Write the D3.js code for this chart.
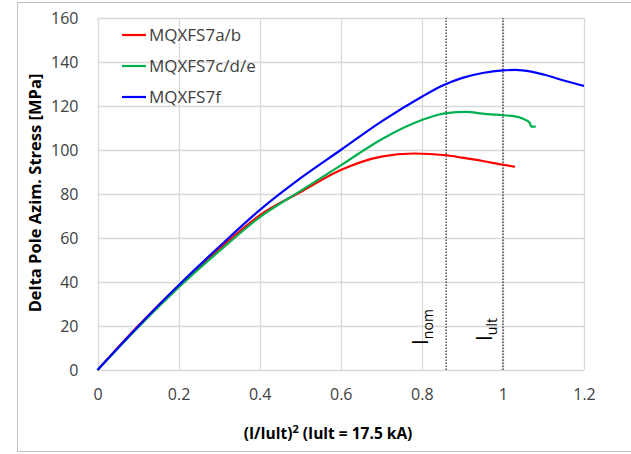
<!DOCTYPE html>
<html>
<head>
<meta charset="utf-8">
<script src="https://cdn.jsdelivr.net/npm/d3@7"></script>
<style>
  body { margin: 0; background: #fff; }
  text { font-family: "Open Sans", "Noto Sans", sans-serif; }
</style>
</head>
<body>
<div id="chart-container"></div>
<script>
// series: x = (I/Iult)^2, y = stress in MPa
var series_names = ["MQXFS7a/b", "MQXFS7c/d/e", "MQXFS7f"];
var series_colors = ["#ff0000", "#00b050", "#0000ff"];

var red_x = [0, 0.1, 0.2, 0.3, 0.4, 0.5, 0.6, 0.7, 0.78, 0.86, 0.9, 0.95, 1.0, 1.03];
var red_y = [0, 20, 38.3, 55, 70.3, 80.8, 90.9, 97.0, 98.4, 97.6, 96.5, 95, 93.3, 92.4];

var green_x = [0, 0.1, 0.2, 0.3, 0.4, 0.5, 0.6, 0.7, 0.8, 0.86, 0.91, 0.95, 1.0, 1.03, 1.05, 1.066, 1.07, 1.081];
var green_y = [0, 19.3, 37.5, 54, 69.4, 81.3, 93, 104.8, 113.6, 116.8, 117.3, 116.5, 115.8, 115.3, 114.2, 112.4, 110.6, 110.6];

var blue_x = [0, 0.1, 0.2, 0.3, 0.4, 0.5, 0.6, 0.7, 0.8, 0.85, 0.9, 0.95, 1.0, 1.03, 1.07, 1.1, 1.15, 1.2];
var blue_y = [0, 19.8, 38.5, 56, 72.7, 87.1, 100, 112.9, 124.2, 129.2, 132.8, 135.0, 136.2, 136.4, 135.6, 134.3, 131.6, 129.1];

var x_ticks = [0, 0.2, 0.4, 0.6, 0.8, 1, 1.2];
var y_ticks = [0, 20, 40, 60, 80, 100, 120, 140, 160];

var marker_x = [0.86, 1.0];
var marker_labels = [["I", "nom"], ["I", "ult"]];

var svg_width = 631;
var svg_height = 454;
var margin = {top: 18, right: 47, bottom: 84, left: 97.5};

var svg = d3.select("#chart-container")
	.append("svg")
	.attr("width", svg_width)
	.attr("height", svg_height);

// outer chart frame
svg.append("rect")
	.attr("x", 17.5)
	.attr("y", 2.5)
	.attr("width", 640)
	.attr("height", 449)
	.attr("fill", "none")
	.attr("stroke", "#bfbfbf");

var x = d3.scaleLinear()
	.domain([0, 1.2])
	.range([margin.left, svg_width - margin.right]);

var y = d3.scaleLinear()
	.domain([0, 160])
	.range([svg_height - margin.bottom, margin.top]);

// grid
svg.append("g")
	.selectAll("line")
	.data(x_ticks)
	.enter().append("line")
	.attr("x1", d => Math.round(x(d)) + 0.5)
	.attr("x2", d => Math.round(x(d)) + 0.5)
	.attr("y1", y(0))
	.attr("y2", y(160))
	.attr("stroke", "#d9d9d9")
	.attr("stroke-width", 1.3);

svg.append("g")
	.selectAll("line")
	.data(y_ticks)
	.enter().append("line")
	.attr("x1", x(0))
	.attr("x2", x(1.2))
	.attr("y1", d => Math.round(y(d)) + 0.5)
	.attr("y2", d => Math.round(y(d)) + 0.5)
	.attr("stroke", "#d9d9d9")
	.attr("stroke-width", 1.3);

// axes (labels only, Excel style)
var x_axis = d3.axisBottom(x).tickValues(x_ticks).tickSize(0).tickPadding(19)
	.tickFormat(d => d3.format("")(d));
var gx = svg.append("g")
	.attr("transform", "translate(0," + y(0) + ")")
	.call(x_axis);
gx.select(".domain").remove();
gx.selectAll("text")
	.style("font-size", "16px")
	.style("font-family", "Open Sans, sans-serif")
	.attr("fill", "#404040");

var y_axis = d3.axisLeft(y).tickValues(y_ticks).tickSize(0).tickPadding(19);
var gy = svg.append("g")
	.attr("transform", "translate(" + x(0) + ",0)")
	.call(y_axis);
gy.select(".domain").remove();
gy.selectAll("text")
	.style("font-size", "16px")
	.style("font-family", "Open Sans, sans-serif")
	.attr("fill", "#404040");

// vertical marker lines
svg.append("g")
	.selectAll("line")
	.data(marker_x)
	.enter().append("line")
	.attr("x1", d => x(d))
	.attr("x2", d => x(d))
	.attr("y1", y(0))
	.attr("y2", y(160))
	.attr("stroke", "#404040")
	.attr("stroke-width", 1.4)
	.attr("stroke-dasharray", "1.5,1.5");

var marker_g = svg.append("g")
	.selectAll("text")
	.data(marker_x)
	.enter().append("text")
	.attr("transform", function(d, i) {
		var py = i == 0 ? 345 : 341;
		var off = i == 0 ? 18 : 11;
		return "translate(" + (x(d) - off) + "," + py + ") rotate(-90)";
	})
	.attr("fill", "#000")
	.style("font-size", "21px");
marker_g.append("tspan")
	.text((d, i) => marker_labels[i][0]);
marker_g.append("tspan")
	.attr("dy", 5)
	.style("font-size", "14px")
	.text((d, i) => marker_labels[i][1]);

// series lines
var all_series = [
	{xs: red_x, ys: red_y},
	{xs: green_x, ys: green_y},
	{xs: blue_x, ys: blue_y}
];

var line = d3.line()
	.x(d => x(d[0]))
	.y(d => y(d[1]))
	.curve(d3.curveMonotoneX);

svg.append("g")
	.selectAll("path")
	.data(all_series)
	.enter().append("path")
	.attr("d", d => line(d.xs.map((v, i) => [v, d.ys[i]])))
	.attr("fill", "none")
	.attr("stroke", (d, i) => series_colors[i])
	.attr("stroke-width", 2.2);

// legend
var legend = svg.append("g")
	.selectAll("g")
	.data(series_names)
	.enter().append("g")
	.attr("transform", (d, i) => "translate(122," + (35 + i * 31) + ")");
legend.append("line")
	.attr("x1", 0)
	.attr("x2", 24)
	.attr("stroke", (d, i) => series_colors[i])
	.attr("stroke-width", 2.2);
legend.append("text")
	.attr("x", 27)
	.attr("dy", "0.35em")
	.attr("fill", "#404040")
	.style("font-size", "17px")
	.text(d => d);

// axis titles
var x_title = svg.append("text")
	.attr("x", 328)
	.attr("y", 439)
	.attr("text-anchor", "middle")
	.attr("fill", "#000")
	.style("font-size", "15.5px")
	.style("font-weight", "bold");
x_title.append("tspan").text("(I/Iult)");
x_title.append("tspan").attr("dy", -6).style("font-size", "11px").text("2");
x_title.append("tspan").attr("dy", 6).text(" (Iult = 17.5 kA)");

svg.append("text")
	.attr("transform", "translate(41,193) rotate(-90)")
	.attr("text-anchor", "middle")
	.attr("fill", "#000")
	.style("font-size", "16.5px")
	.style("font-weight", "bold")
	.text("Delta Pole Azim. Stress [MPa]");
</script>
</body>
</html>
